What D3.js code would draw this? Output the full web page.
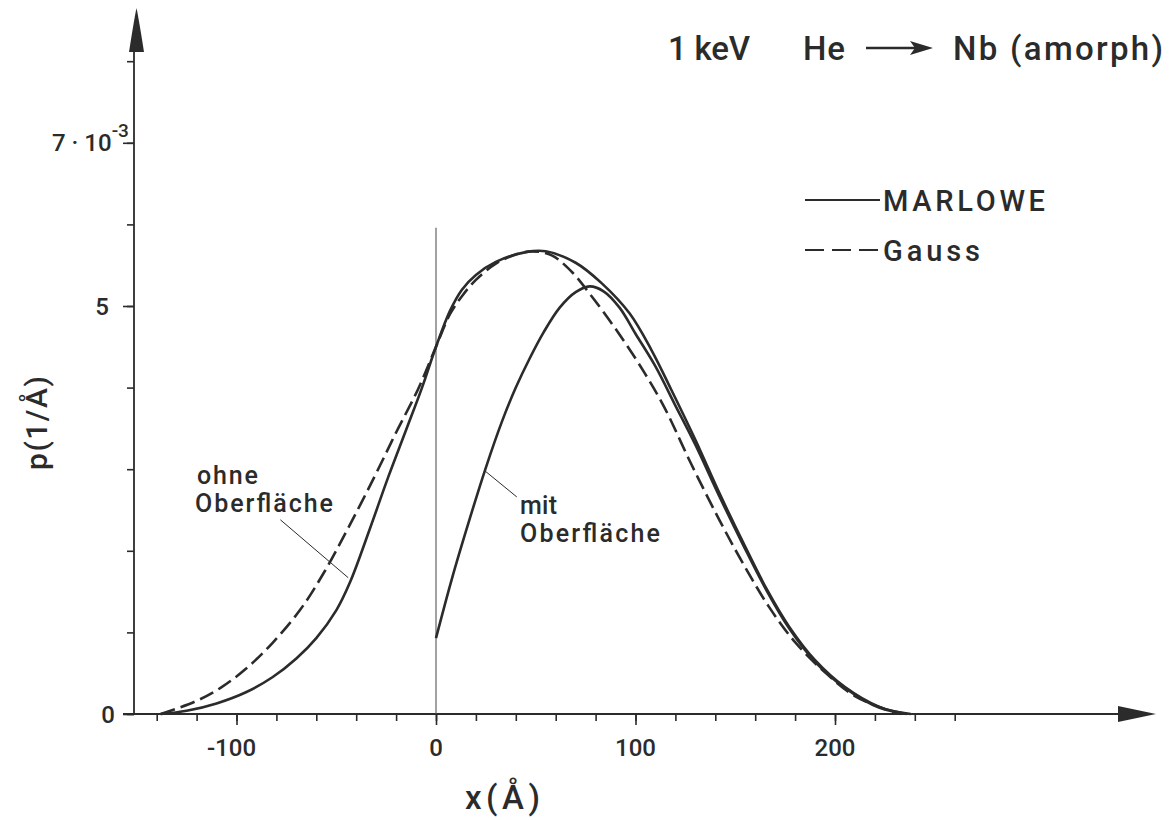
<!DOCTYPE html>
<html><head><meta charset="utf-8">
<script src="https://cdn.jsdelivr.net/npm/d3@7"></script>
<style>
body{margin:0;background:#fff}
svg{display:block}
text{font-family:Roboto,"Liberation Sans",sans-serif;fill:#2b2b2b;font-weight:500}
</style>
</head><body>
<svg id="c" width="1170" height="820"></svg>
<script>
// ---- data ----
const xMinorTicks = [-140,-120,-100,-80,-60,-40,-20,0,20,40,60,80,100,120,140,160,180,200,220,240,260];
const xTickLabels = [-100,0,100,200];
const yMinorTicks = [0,1,2,3,4,5,6,7,8];
const yTickLabels = [0,5,7];

// MARLOWE, ohne Oberfläche (solid)
const ohneX = [-138,-125,-110,-95,-82,-70,-60,-50,-43,-33,-24,-15,-7,0,7,13,20,30,45,55,70,83,97,108,118,130,142,154,166,177,190,205,222,236];
const ohneP = [0,0.04,0.13,0.27,0.45,0.68,0.93,1.27,1.62,2.28,2.90,3.48,4.00,4.50,4.94,5.20,5.38,5.54,5.66,5.67,5.53,5.28,4.91,4.46,3.97,3.36,2.71,2.10,1.52,1.07,0.66,0.33,0.09,0];
// Gauss (dashed)
const gaussX = [-138,-121,-108,-95,-82,-68,-56,-44,-31,-20,-9,0,7,13,20,30,40,48,58,68,78,90,102,114,128,142,154,167,180,195,210,225,233];
const gaussP = [0,0.15,0.32,0.56,0.87,1.28,1.74,2.28,2.90,3.45,3.98,4.50,4.90,5.12,5.32,5.52,5.63,5.67,5.62,5.42,5.12,4.72,4.28,3.78,3.06,2.38,1.84,1.31,0.88,0.51,0.22,0.06,0];
// MARLOWE, mit Oberfläche (solid)
const mitX = [0,8,17,25,33,40,47,54,62,70,77,84,92,100,110,120,130,142,154,166,177,190,205,222,238];
const mitP = [0.93,1.66,2.40,3.02,3.58,4.00,4.36,4.68,4.98,5.17,5.24,5.18,4.98,4.66,4.26,3.78,3.30,2.67,2.07,1.50,1.05,0.64,0.32,0.08,0];

const ink = "#2b2b2b";
const svg = d3.select("#c");
const x = d3.scaleLinear().domain([0,200]).range([436,835]);
const y = d3.scaleLinear().domain([0,5]).range([714,306]);

// ---- axes ----
const gx = svg.append("g").attr("transform",`translate(0,${y(0)})`);
gx.call(d3.axisBottom(x).tickValues(xMinorTicks).tickSize(7).tickFormat(""));
gx.call(g=>g.select(".domain").remove());
const gx2 = svg.append("g").attr("transform",`translate(0,${y(0)})`);
gx2.call(d3.axisBottom(x).tickValues(xTickLabels).tickSize(11).tickFormat(""));
gx2.call(g=>g.select(".domain").remove());
svg.selectAll(".tick line").attr("stroke",ink).attr("stroke-width",1.6);

svg.append("line").attr("x1",123).attr("x2",1125).attr("y1",y(0)).attr("y2",y(0))
  .attr("stroke",ink).attr("stroke-width",1.8);
svg.append("path").attr("d",`M1118,${y(0)-8} L1156,${y(0)} L1118,${y(0)+8} Z`).attr("fill",ink);

svg.selectAll("text.xl").data(xTickLabels).join("text").attr("class","xl")
  .attr("x",d=>x(d)+(d<0?-5:0)).attr("y",756).attr("text-anchor","middle")
  .attr("font-size",24).text(d=>d<0?"-"+Math.abs(d):d);

const gy = svg.append("g").attr("transform",`translate(134,0)`);
gy.call(d3.axisLeft(y).tickValues(yMinorTicks).tickSize(7).tickFormat(""));
gy.call(g=>g.select(".domain").remove());
const gy2 = svg.append("g").attr("transform",`translate(134,0)`);
gy2.call(d3.axisLeft(y).tickValues(yTickLabels).tickSize(11).tickFormat(""));
gy2.call(g=>g.select(".domain").remove());
svg.selectAll(".tick line").attr("stroke",ink).attr("stroke-width",1.6);
svg.append("line").attr("x1",134).attr("x2",134).attr("y1",y(0)).attr("y2",50)
  .attr("stroke",ink).attr("stroke-width",1.8);
svg.append("path").attr("d","M129,52 Q134,20 136.5,8 Q139,20 144,52 Z").attr("fill",ink);

svg.append("text").attr("x",115).attr("y",y(0)+9).attr("text-anchor","end").attr("font-size",24).text(yTickLabels[0]);
svg.append("text").attr("x",109).attr("y",y(5)+9).attr("text-anchor","end").attr("font-size",24).text(yTickLabels[1]);
const t7 = svg.append("text").attr("x",52).attr("y",y(7)+8).attr("font-size",24);
t7.append("tspan").text(yTickLabels[2]+" \u00B7 10");
t7.append("tspan").attr("dy",-14).attr("font-size",19).text("-3");

// axis titles
svg.append("text").attr("transform","translate(47,423) rotate(-90)").attr("text-anchor","middle")
  .attr("font-size",30).attr("textLength",94).text("p(1/Å)");
svg.append("text").attr("x",465).attr("y",809).attr("font-size",33).attr("textLength",75).text("x(Å)");

// x = 0 reference line
svg.append("line").attr("x1",x(0)).attr("x2",x(0)).attr("y1",y(5.96)).attr("y2",y(0))
  .attr("stroke","#555").attr("stroke-width",1.1);

// ---- curves ----
const line = d3.line().x(d=>x(d[0])).y(d=>y(d[1])).curve(d3.curveCatmullRom.alpha(0.5));
svg.append("path").datum(d3.zip(gaussX,gaussP)).attr("d",line).attr("fill","none")
  .attr("stroke",ink).attr("stroke-width",2.6).attr("stroke-dasharray","15,6");
svg.append("path").datum(d3.zip(ohneX,ohneP)).attr("d",line).attr("fill","none")
  .attr("stroke",ink).attr("stroke-width",2.6);
svg.append("path").datum(d3.zip(mitX,mitP)).attr("d",line).attr("fill","none")
  .attr("stroke",ink).attr("stroke-width",2.6);

// ---- annotations ----
svg.append("line").attr("x1",x(-78)).attr("y1",y(2.38)).attr("x2",x(-44)).attr("y2",y(1.67))
  .attr("stroke",ink).attr("stroke-width",1);
svg.append("text").attr("x",197).attr("y",484).attr("font-size",25).attr("textLength",61).text("ohne");
svg.append("text").attr("x",195).attr("y",512).attr("font-size",25).attr("textLength",138).text("Oberfläche");
svg.append("line").attr("x1",x(24.5)).attr("y1",y(2.98)).attr("x2",x(40.5)).attr("y2",y(2.66))
  .attr("stroke",ink).attr("stroke-width",1);
svg.append("text").attr("x",520).attr("y",514).attr("font-size",25).attr("textLength",37).text("mit");
svg.append("text").attr("x",520).attr("y",542).attr("font-size",25).attr("textLength",140).text("Oberfläche");

// ---- legend ----
svg.append("line").attr("x1",805).attr("x2",880).attr("y1",200).attr("y2",200).attr("stroke",ink).attr("stroke-width",2.2);
svg.append("text").attr("x",883).attr("y",211).attr("font-size",29).attr("textLength",162).text("MARLOWE");
svg.append("line").attr("x1",805).attr("x2",880).attr("y1",250).attr("y2",250).attr("stroke",ink).attr("stroke-width",2.2)
  .attr("stroke-dasharray","19,8");
svg.append("text").attr("x",883).attr("y",261).attr("font-size",29).attr("textLength",97).text("Gauss");

// ---- title ----
svg.append("text").attr("x",668).attr("y",60).attr("font-size",33).attr("textLength",82).text("1 keV");
svg.append("text").attr("x",803).attr("y",60).attr("font-size",33).attr("textLength",42).text("He");
svg.append("line").attr("x1",866).attr("x2",922).attr("y1",48).attr("y2",48).attr("stroke",ink).attr("stroke-width",2.4);
svg.append("path").attr("d","M910,41 L933,48 L910,55 L915,48 Z").attr("fill",ink);
svg.append("text").attr("x",953).attr("y",60).attr("font-size",33).attr("textLength",210).text("Nb (amorph)");
</script>
</body></html>
